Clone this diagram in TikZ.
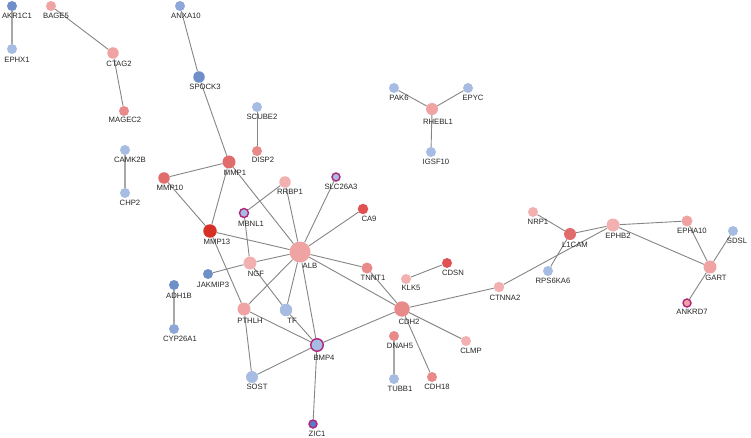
\documentclass[tikz,border=0pt]{standalone}
\usepackage{fontspec}
\setmainfont{Liberation Sans}
\usetikzlibrary{backgrounds}
\definecolor{bd}{HTML}{6F8FC8}
\definecolor{bm}{HTML}{8CA7D8}
\definecolor{bl}{HTML}{A7BCE2}
\definecolor{bz}{HTML}{5B7BC4}
\definecolor{pl}{HTML}{EFA3A3}
\definecolor{pll}{HTML}{F2B0B0}
\definecolor{pm}{HTML}{E88A8A}
\definecolor{rm}{HTML}{E06C6C}
\definecolor{rs}{HTML}{E05252}
\definecolor{rx}{HTML}{D73027}
\definecolor{mag}{HTML}{B0247C}
\definecolor{edgec}{HTML}{858585}
\definecolor{edgel}{HTML}{A8A8A8}
\tikzset{
  gene/.style={circle, inner sep=0pt, draw=none},
  hit/.style={draw=mag, line width=1.4pt},
  lbl/.style={inner sep=0pt, text=black!85, font=\fontsize{7.7}{8}\selectfont},
  edge/.style={draw=edgec, line width=0.9pt},
  edgelight/.style={draw=edgel, line width=1.6pt},
}
\newcommand\gn[7]{%
  \node[gene,#4] (#1) at (#2,#3) {};
  \node[lbl] (#1-t) at (#6,#7) {#1};}
\begin{document}
\begin{tikzpicture}[x=1pt,y=-1pt]
\useasboundingbox (0,0) rectangle (751,438);
% nodes
\gn{AKR1C1}{12}{6}{fill=bd,minimum size=10pt}{}{17}{16}
\gn{EPHX1}{12}{49}{fill=bl,minimum size=10pt}{}{17}{60}
\gn{BAGE5}{51}{6}{fill=pl,minimum size=10pt}{}{56}{16}
\gn{CTAG2}{113}{53}{fill=pl,minimum size=11.5pt}{}{119}{64}
\gn{MAGEC2}{124}{111}{fill=pm,minimum size=10pt}{}{125}{120}
\gn{ANXA10}{180}{6}{fill=bm,minimum size=10pt}{}{186}{16}
\gn{SPOCK3}{199}{77}{fill=bd,minimum size=11.5pt}{}{205}{87}
\gn{SCUBE2}{257}{107}{fill=bl,minimum size=10pt}{}{262}{117}
\gn{DISP2}{257}{151}{fill=pm,minimum size=10pt}{}{263}{160}
\gn{MMP1}{229}{162}{fill=rm,minimum size=13pt}{}{235}{173}
\gn{MMP10}{164}{178}{fill=rm,minimum size=11.5pt}{}{170}{188}
\gn{CAMK2B}{125}{150}{fill=bl,minimum size=10pt}{}{130}{160}
\gn{CHP2}{125}{193}{fill=bl,minimum size=10pt}{}{130}{203}
\gn{MBNL1}{244}{213}{fill=bl,hit,minimum size=9pt}{}{251}{224}
\gn{RRBP1}{285}{182}{fill=pll,minimum size=11.5pt}{}{290}{192}
\gn{SLC26A3}{336}{177}{fill=bl,hit,minimum size=8pt}{}{341}{187}
\gn{CA9}{363}{209}{fill=rs,minimum size=10.5pt}{}{369}{219}
\gn{MMP13}{210}{231}{fill=rx,minimum size=13.5pt}{}{217}{242}
\gn{ALB}{300}{252}{fill=pl,minimum size=21pt}{}{310}{266}
\gn{NGF}{250}{263}{fill=pll,minimum size=13pt}{}{256}{274}
\gn{JAKMIP3}{208}{274}{fill=bd,minimum size=10pt}{}{213}{285}
\gn{ADH1B}{174}{285}{fill=bd,minimum size=10pt}{}{179}{296}
\gn{CYP26A1}{174}{329}{fill=bm,minimum size=10pt}{}{180}{339}
\gn{PTHLH}{244}{309}{fill=pl,minimum size=13pt}{}{250}{321}
\gn{TF}{286}{310}{fill=bl,minimum size=12.5pt}{}{292}{321}
\gn{BMP4}{317}{345}{fill=bl,hit,minimum size=12.5pt}{}{324}{358}
\gn{SOST}{252}{377}{fill=bl,minimum size=12pt}{}{257}{387}
\gn{ZIC1}{313}{424}{fill=bz,hit,minimum size=8pt}{}{317}{434}
\gn{TNNT1}{367}{268}{fill=pm,minimum size=11pt}{}{373}{278}
\gn{KLK5}{406}{279}{fill=pll,minimum size=10pt}{}{411}{288}
\gn{CDSN}{447}{263}{fill=rs,minimum size=10pt}{}{453}{273}
\gn{CDH2}{402}{309}{fill=pm,minimum size=15.5pt}{}{409}{322}
\gn{CTNNA2}{499}{287}{fill=pll,minimum size=10.5pt}{}{505}{298}
\gn{DNAH5}{394}{336}{fill=pm,minimum size=10pt}{}{400}{346}
\gn{CLMP}{466}{341}{fill=pll,minimum size=10pt}{}{471}{351}
\gn{TUBB1}{394}{379}{fill=bl,minimum size=10pt}{}{400}{389}
\gn{CDH18}{432}{377}{fill=pm,minimum size=10pt}{}{437}{387}
\gn{PAK6}{394}{88}{fill=bl,minimum size=10pt}{}{399}{98}
\gn{EPYC}{468}{88}{fill=bl,minimum size=10pt}{}{473}{98}
\gn{RHEBL1}{432}{109}{fill=pl,minimum size=12pt}{}{438}{122}
\gn{IGSF10}{431}{152}{fill=bl,minimum size=10pt}{}{436}{162}
\gn{NRP1}{533}{212}{fill=pll,minimum size=10pt}{}{538}{222}
\gn{L1CAM}{570}{234}{fill=rm,minimum size=12pt}{}{575}{245}
\gn{EPHB2}{613}{225}{fill=pll,minimum size=13pt}{}{618}{236}
\gn{EPHA10}{687}{221}{fill=pl,minimum size=11pt}{}{692}{231}
\gn{SDSL}{733}{231}{fill=bl,minimum size=10pt}{}{737}{241}
\gn{GART}{710}{267}{fill=pl,minimum size=13pt}{}{716}{278}
\gn{ANKRD7}{687}{303}{fill=pl,hit,minimum size=8pt}{}{692}{312}
\gn{RPS6KA6}{548}{271}{fill=bl,minimum size=10pt}{}{553}{281}
% edges
\begin{scope}[on background layer]
\draw[edgelight] (AKR1C1) -- (EPHX1);
\draw[edgelight] (CAMK2B) -- (CHP2);
\draw[edgelight] (ADH1B) -- (CYP26A1);
\draw[edgelight] (DNAH5) -- (TUBB1);
\draw[edge] (BAGE5) -- (CTAG2);
\draw[edge] (CTAG2) -- (MAGEC2);
\draw[edge] (ANXA10) -- (SPOCK3);
\draw[edge] (SPOCK3) -- (MMP1);
\draw[edge] (SCUBE2) -- (DISP2);
\draw[edge] (MMP1) -- (MMP10);
\draw[edge] (MMP1) -- (MMP13);
\draw[edge] (MMP1) -- (ALB);
\draw[edge] (MMP10) -- (MMP13);
\draw[edge] (MMP13) -- (ALB);
\draw[edge] (MMP13) -- (PTHLH);
\draw[edge] (MBNL1) -- (RRBP1);
\draw[edge] (MBNL1) -- (NGF);
\draw[edge] (RRBP1) -- (ALB);
\draw[edge] (SLC26A3) -- (ALB);
\draw[edge] (CA9) -- (ALB);
\draw[edge] (ALB) -- (NGF);
\draw[edge] (ALB) -- (PTHLH);
\draw[edge] (ALB) -- (TF);
\draw[edge] (ALB) -- (BMP4);
\draw[edge] (ALB) -- (TNNT1);
\draw[edge] (ALB) -- (CDH2);
\draw[edge] (NGF) -- (JAKMIP3);
\draw[edge] (NGF) -- (TF);
\draw[edge] (TF) -- (BMP4);
\draw[edge] (PTHLH) -- (BMP4);
\draw[edge] (PTHLH) -- (SOST);
\draw[edge] (SOST) -- (BMP4);
\draw[edge] (BMP4) -- (ZIC1);
\draw[edge] (BMP4) -- (CDH2);
\draw[edge] (TNNT1) -- (CDH2);
\draw[edge] (KLK5) -- (CDSN);
\draw[edge] (CDH2) -- (CTNNA2);
\draw[edge] (CDH2) -- (CLMP);
\draw[edge] (CDH2) -- (CDH18);
\draw[edge] (CTNNA2) -- (EPHB2);
\draw[edge] (NRP1) -- (L1CAM);
\draw[edge] (L1CAM) -- (EPHB2);
\draw[edge] (L1CAM) -- (RPS6KA6);
\draw[edge] (EPHB2) -- (EPHA10);
\draw[edge] (EPHB2) -- (GART);
\draw[edge] (EPHA10) -- (GART);
\draw[edge] (SDSL) -- (GART);
\draw[edge] (GART) -- (ANKRD7);
\draw[edge] (PAK6) -- (RHEBL1);
\draw[edge] (EPYC) -- (RHEBL1);
\draw[edge] (RHEBL1) -- (IGSF10);
\end{scope}
\end{tikzpicture}
\end{document}
